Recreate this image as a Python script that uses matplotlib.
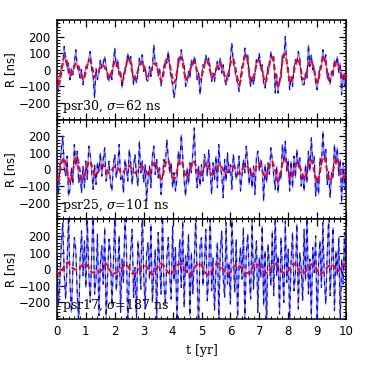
import numpy as np
import matplotlib
matplotlib.use('Agg')
import matplotlib.pyplot as plt
from matplotlib.ticker import MultipleLocator

plt.rcParams['mathtext.fontset'] = 'dejavuserif'

red1 = [
    -30, -90, -70, -15, 45, 80, 80, 45, -15,
    -40, -31, -7, 20, 38, 38, 20, -7, -31,
    -60, -46, -10, 30, 56, 56, 30, -10, -46,
    -30, -23, -5, 15, 28, 28, 15, -5, -23,
    -50, -38, -8, 25, 47, 47, 25, -8, -38,
    -70, -54, -12, 35, 66, 66, 35, -12, -54,
    -50, -38, -8, 25, 47, 47, 25, -8, -38,
    -40, -31, -7, 20, 38, 38, 20, -7, -31,
    -70, -54, -12, 35, 66, 66, 35, -12, -54,
    -80, -62, -14, 40, 75, 75, 40, -14, -62,
    -50, -38, -8, 25, 47, 47, 25, -8, -38,
    -60, -46, -10, 30, 56, 56, 30, -10, -46,
    -40, -31, -7, 20, 38, 38, 20, -7, -31,
    -70, -54, -12, 35, 66, 66, 35, -12, -54,
    -90, -69, -15, 45, 85, 85, 45, -15, -69,
    -60, -46, -10, 30, 56, 56, 30, -10, -46,
    -80, -62, -14, 40, 75, 75, 40, -14, -62,
    -100, -77, -17, 50, 94, 94, 50, -17, -77,
    -70, -54, -12, 35, 66, 66, 35, -12, -54,
    -60, -46, -10, 30, 56, 56, 30, -10, -46,
    -80, -62, -14, 40, 75, 75, 40, -14, -62,
    -50, -38, -8, 25, 47, 47, 25, -8, -38,
    -60, -46, -10,
]
blue1 = [
    -10, -130, -40, 20, 30, 140, 60, 10, 40,
    -60, 10, -30, 40, 120, 20, -10, -50, 0,
    -90, -30, 20, 10, 70, 110, 0, -40, -170,
    10, -60, -20, 60, 10, 40, 80, 20, -50,
    -70, -20, -60, 40, 130, 20, 60, -30, -10,
    -110, -40, 10, 20, 100, 50, 80, 10, -90,
    -30, -80, -20, 70, 30, 90, -10, 20, -60,
    -70, 20, -40, 10, 150, 30, 40, -40, 10,
    -100, -30, 20, 60, 40, 110, 20, -50, -90,
    -170, -110, -30, 70, 50, 120, 60, 30, -100,
    -80, -10, -50, 60, 20, 80, 40, -60, -20,
    -150, -60, 30, 10, 90, 40, 70, 10, -70,
    -20, -70, 10, 50, 0, 70, -20, 30, -60,
    -90, -20, -40, 70, 160, 40, 10, -50, -80,
    -130, -50, 20, 30, 130, 70, 90, -40, -100,
    -40, -90, -30, 60, 40, 100, 0, 30, -80,
    -110, -40, 20, 10, 110, 60, 80, -140, -30,
    -140, -60, -50, 90, 70, 200, 30, 10, -120,
    -40, -100, 10, 60, 30, 110, 70, -40, -90,
    -90, -20, -50, 150, 20, 90, 0, 20, -80,
    -120, -40, 20, 10, 120, 50, 90, -50, -20,
    -90, -10, -40, 60, 20, 80, -20, 40, -150,
    -20, -100, 30,
]

red2 = [
    -70, -54, -12, 35, 66, 66, 35, -12, -54,
    -80, -62, -14, 40, 75, 75, 40, -14, -62,
    -50, -38, -8, 25, 47, 47, 25, -8, -38,
    -30, -23, -5, 15, 28, 28, 15, -5, -23,
    -20, -15, -3, 10, 19, 19, 10, -3, -15,
    -25, -19, -4, 12, 23, 23, 12, -4, -19,
    -20, -15, -3, 10, 19, 19, 10, -3, -15,
    -40, -31, -7, 20, 38, 38, 20, -7, -31,
    -60, -46, -10, 30, 56, 56, 30, -10, -46,
    -60, -46, -10, 30, 56, 56, 30, -10, -46,
    -50, -38, -8, 25, 47, 47, 25, -8, -38,
    -40, -31, -7, 20, 38, 38, 20, -7, -31,
    -30, -23, -5, 15, 28, 28, 15, -5, -23,
    -20, -15, -3, 10, 19, 19, 10, -3, -15,
    -30, -23, -5, 15, 28, 28, 15, -5, -23,
    -40, -31, -7, 20, 38, 38, 20, -7, -31,
    -50, -38, -8, 25, 47, 47, 25, -8, -38,
    -70, -54, -12, 35, 66, 66, 35, -12, -54,
    -40, -31, -7, 20, 38, 38, 20, -7, -31,
    -60, -46, -10, 30, 56, 56, 30, -10, -46,
    -80, -62, -14, 40, 75, 75, 40, -14, -62,
    -70, -54, -12, 35, 66, 66, 35, -12, -54,
    -50, -38, -8,
]
blue2 = [
    60, -150, 20, 120, 200, 10, -40, 80, -160,
    -120, 10, -90, 150, 20, 110, -80, -30, -140,
    20, -110, 50, -60, 140, 90, -20, -120, 30,
    -90, 40, -10, 100, -40, 60, 130, -70, -20,
    50, -80, -130, 30, 90, -50, 20, 150, -60,
    -30, -140, 60, 10, -70, 120, 40, -90, 20,
    90, -40, -100, 170, -20, 50, -80, 30, -190,
    -60, 20, -110, 80, 140, -30, 60, -50, 10,
    -150, -40, 60, 20, 180, 70, -20, 40, -110,
    -20, -130, -60, 110, 30, 210, 80, -70, -160,
    10, -90, 40, -20, 100, 250, -10, -110, 20,
    -100, 30, -70, 90, 50, -40, 120, -20, -150,
    40, -60, 80, -110, 150, 10, -30, -170, 60,
    -70, 100, -20, 30, -120, 90, 20, -60, -10,
    80, -130, -40, 60, -20, 140, 40, -90, 10,
    -110, 20, -150, 70, 110, -10, 60, 20, -190,
    30, -80, 40, -30, 130, 60, -40, -120, 20,
    -140, -20, -60, 150, 40, 170, -10, 60, -130,
    50, -110, 80, -50, 120, 10, 70, -100, -20,
    -130, 30, -80, 110, -10, 190, 40, 80, -160,
    -40, -150, 70, 20, 230, 60, 120, -90, -10,
    -170, -20, -50, 150, 30, 130, -40, 60, -200,
    40, -120, 90,
]

# psr17 signal sampled every 0.1 yr
red3 = [
    -15, -35, 0, 35, 40, 10, 0,
    -5, 10, 30, 35, 10, -20, -20,
    -20, -15, 5, 35, 0, -30, -25,
    -15, 0, 20, 30, 5, -25, -30,
    -10, 15, 25, 15, -15, -35, -10,
    20, 35, 20, -10, -30, -20, 5,
    30, 30, 0, -25, -30, -10, 20,
    35, 25, -10, -35, -30, 5, 30,
    35, 10, -15, -30, -20, 10, 30,
    25, 0, -20, -25, -10, 20, 35,
    20, -10, -25, -20, 5, 30, 30,
    5, -20, -25, -10, 15, 35, 15,
    -15, -30, -15, 10, 30, 25, -5,
    -35, -20, 0, 20, 30, 15, -15,
    0, 30, 20,
]
blue3 = [
    80, -220, -60, 150, 280, -30, -180, 40, 320, -90,
    -260, 10, 190, 120, -140, -330, 60, 230, -40, 170,
    -110, 290, -20, -200, 70, 360, -150, -60, 210, -280,
    30, 140, -90, 250, -310, -40, 180, 90, -220, 20,
    330, -130, -10, 200, -260, 60, -80, 300, 140, -350,
    -50, 110, 240, -170, 10, -290, 170, 50, -120, 380,
    -30, -240, 90, 160, -60, 270, -200, -20, 120, -300,
    220, 40, -150, 340, -90, -220, 60, 190, -40, -180,
    260, -70, 130, -340, 20, 180, -110, 290, -230, 80,
    -20, 210, -280, 100, -150, 50, 310, -60, -370, 140,
    190, -100, 30, 240, -190, -40, 350, -130, 70, -250,
    0, 160, -310, 110, 230, -50, -170, 280, -90, 40,
    -210, 320, 60, -140, 180, -290, 20, 130, -60, 250,
    -330, 90, 210, -30, -180, 300, -120, 40, 170, -260,
    70, -50, 260, -220, 110, -380, 150, 30, -100, 230,
    -160, 340, -40, 80, -270, 190, -10, -200, 290, -80,
    120, -300, 50, 220, -130, -30, 270, -240, 100, 10,
    -190, 240, -70, 360, -150, 60, -280, 130, -20, 200,
    -340, 30, 170, -110, 280, -60, -210, 90, 310, -160,
    40, 250, -250, 110, -40, 190, -320, 60, -90, 220,
    -130,
]

labels = [r'psr30, $\sigma$=62 ns', r'psr25, $\sigma$=101 ns', r'psr17, $\sigma$=187 ns']
panels = [(blue1, red1), (blue2, red2), (blue3, red3)]

fig = plt.figure(figsize=(3.66, 3.66), dpi=100)
left, width = 57 / 366, 289 / 366
h = 99.7 / 366
bottom0 = 1 - 319 / 366

for i, (blue, red) in enumerate(panels):
    ax = fig.add_axes([left, bottom0 + (2 - i) * h, width, h])
    tb = np.linspace(0, 10, len(blue))
    tr = np.linspace(0, 10, len(red))
    ax.plot(tb, blue, color='#8080ff', lw=0.9)
    ax.plot(tb, blue, color='#0000ff', lw=0.8, dashes=(4, 4))
    ax.plot(tr, red, color='red', lw=1.4, dashes=(3, 1.5), zorder=5)
    ax.set_xlim(0, 10)
    ax.set_ylim(-300, 300)
    ax.set_yticks([-200, -100, 0, 100, 200])
    ax.xaxis.set_major_locator(MultipleLocator(1))
    ax.xaxis.set_minor_locator(MultipleLocator(0.2))
    ax.yaxis.set_minor_locator(MultipleLocator(20))
    ax.tick_params(which='both', direction='in', top=True, right=True,
                   labelsize=8.5, pad=4.5)
    ax.tick_params(which='major', length=5, width=0.9)
    ax.tick_params(which='minor', length=2.5, width=0.7)
    for s in ax.spines.values():
        s.set_linewidth(1.1)
    ax.set_ylabel('R [ns]', fontsize=8.5, labelpad=1)
    ax.text(0.018, 0.05, labels[i], transform=ax.transAxes, fontsize=9,
            family='DejaVu Serif', ha='left', va='bottom', zorder=6)
    if i < 2:
        ax.tick_params(labelbottom=False)
    else:
        ax.set_xlabel('t [yr]', fontsize=9, family='DejaVu Serif', labelpad=4)

fig.savefig('out.png', dpi=100)
